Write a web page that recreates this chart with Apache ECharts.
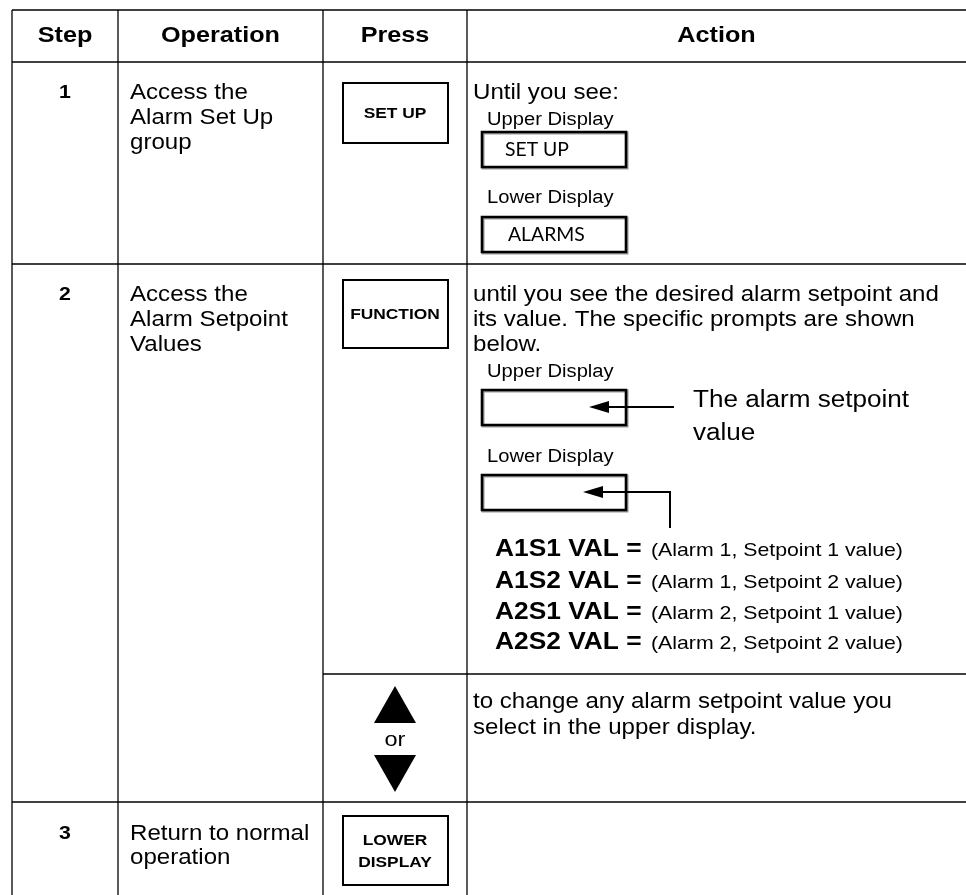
<!DOCTYPE html>
<html>
<head>
<meta charset="utf-8">
<script src="https://cdn.jsdelivr.net/npm/echarts@6/dist/echarts.min.js"></script>
<style>
html,body{margin:0;padding:0;background:#fff;}
#chart{width:966px;height:895px;}
</style>
</head>
<body>
<div id="chart"></div>
<script>
// ---- content ----
const headers = ['Step', 'Operation', 'Press', 'Action'];
const steps = ['1', '2', '3'];
const operations = [
  ['Access the', 'Alarm Set Up', 'group'],
  ['Access the', 'Alarm Setpoint', 'Values'],
  ['Return to normal', 'operation']
];
const pressKeys = [['SET UP'], ['FUNCTION'], ['LOWER', 'DISPLAY']];
const orText = 'or';
const action1Lines = ['Until you see:'];
const displayLabels = ['Upper Display', 'Lower Display'];
const displayValues = ['SET UP', 'ALARMS'];
const action2Lines = [
  'until you see the desired alarm setpoint and',
  'its value. The specific prompts are shown',
  'below.'
];
const calloutLines = ['The alarm setpoint', 'value'];
const promptCodes = ['A1S1 VAL =', 'A1S2 VAL =', 'A2S1 VAL =', 'A2S2 VAL ='];
const promptDescs = [
  '(Alarm 1, Setpoint 1 value)',
  '(Alarm 1, Setpoint 2 value)',
  '(Alarm 2, Setpoint 1 value)',
  '(Alarm 2, Setpoint 2 value)'
];
const action2bLines = ['to change any alarm setpoint value you', 'select in the upper display.'];

// ---- layout ----
const F = '"Liberation Sans", Arial, sans-serif';
const DF = 'Lato, "Open Sans", sans-serif';
const SX = 1.12;            // glyphs in the reference are a little wider than Arial
const colX = [12, 118, 323, 467, 966];
const rowY = {top: 10, head: 62, r1: 264, split: 674, r3: 802, bottom: 895};
const BODY = 21.5;
const els = [];

function line(x1, y1, x2, y2, w) {
  els.push({type: 'line', shape: {x1, y1, x2, y2}, style: {stroke: '#000', lineWidth: w || 1.3}, silent: true});
}
function text(t, x, y, size, weight, align, family, sx) {
  els.push({type: 'text', x: x, y: y, scaleX: sx || SX, scaleY: 1, style: {
    x: 0, y: 0,
    text: t, font: (weight || 'normal') + ' ' + size + 'px ' + (family || F),
    fill: '#000', align: align || 'left', verticalAlign: 'middle',
    textAlign: align || 'left', textVerticalAlign: 'middle'
  }, silent: true});
}
function box(x, y, w, h, lw, color) {
  els.push({type: 'rect', shape: {x, y, width: w, height: h}, style: {fill: 'none', stroke: color || '#000', lineWidth: lw}, silent: true});
}
function poly(points) {
  els.push({type: 'polygon', shape: {points}, style: {fill: '#000'}, silent: true});
}

// grid lines
line(colX[0], rowY.top, colX[4], rowY.top);
line(colX[0], rowY.head, colX[4], rowY.head);
line(colX[0], rowY.r1, colX[4], rowY.r1);
line(colX[2], rowY.split, colX[4], rowY.split);
line(colX[0], rowY.r3, colX[4], rowY.r3);
for (let i = 0; i < 4; i++) line(colX[i], rowY.top, colX[i], rowY.bottom);

// header
headers.forEach((h, i) => text(h, (colX[i] + colX[i + 1]) / 2, 36, 22.5, 'bold', 'center'));

// step numbers & operations
const rowTextY = [93, 295, 834];
const opLh = [25, 25, 24];
steps.forEach((s, i) => {
  text(s, (colX[0] + colX[1]) / 2, rowTextY[i], 19, 'bold', 'center');
  operations[i].forEach((o, j) => text(o, 130, rowTextY[i] + j * opLh[i], BODY));
});

// press keys
const pressCx = (colX[2] + colX[3]) / 2;
const keyBoxes = [[83, 60], [280, 68], [816, 69]];
pressKeys.forEach((k, i) => {
  const [by, bh] = keyBoxes[i];
  box(343, by, 105, bh, 2);
  const n = k.length;
  k.forEach((t, j) => text(t, pressCx, by + bh / 2 + 1 + (j - (n - 1) / 2) * 22, 15.5, 'bold', 'center'));
});
// up / down arrows
poly([[pressCx, 686], [pressCx + 21, 723], [pressCx - 21, 723]]);
text(orText, pressCx, 740, 21, 'normal', 'center');
poly([[pressCx - 21, 755], [pressCx + 21, 755], [pressCx, 792]]);

// action row 1
const ax = 473;
text(action1Lines[0], ax, 93, BODY);
function display(label, value, labelY, boxY, valueX) {
  text(label, 487, labelY, 18);
  box(483, boxY + 1, 144, 35, 3, '#9a9a9a');
  box(482, boxY, 144, 35, 2.6);
  if (value) text(value, valueX, boxY + 18, 19, 'normal', 'left', DF, 1.02);
}
display(displayLabels[0], displayValues[0], 120, 132, 505);
display(displayLabels[1], displayValues[1], 198, 217, 508);

// action row 2
action2Lines.forEach((t, j) => text(t, ax, 295 + j * 25, BODY));
display(displayLabels[0], null, 372, 390);
display(displayLabels[1], null, 457, 475);
// arrow to upper display
poly([[589, 407], [609, 401], [609, 413]]);
line(607, 407, 674, 407, 2);
calloutLines.forEach((t, j) => text(t, 693, 401 + j * 33, 23.3));
// arrow to lower display
poly([[583, 492], [603, 486], [603, 498]]);
line(601, 492, 671, 492, 2);
line(670, 491, 670, 528, 2);
// prompts
const promptY = [550, 582, 613, 643];
promptCodes.forEach((c, j) => {
  text(c, 495, promptY[j], 23.5, 'bold');
  text(promptDescs[j], 651, promptY[j] + 1, 19);
});

// action row 2b
action2bLines.forEach((t, j) => text(t, ax, 702 + j * 26, BODY));

const chart = echarts.init(document.getElementById('chart'), null, {renderer: 'canvas'});
chart.setOption({
  backgroundColor: '#fff',
  animation: false,
  graphic: {elements: els}
});
</script>
</body>
</html>
